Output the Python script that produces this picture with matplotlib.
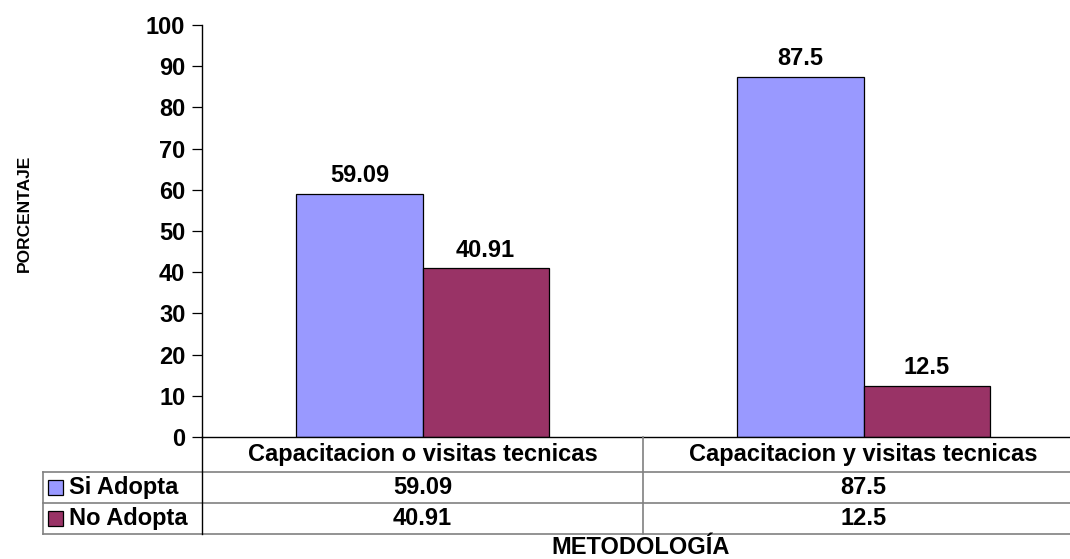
import matplotlib.pyplot as plt
import matplotlib.lines as mlines
import matplotlib.patches as mpatches
import numpy as np

categories = ["Capacitacion o visitas tecnicas", "Capacitacion y visitas tecnicas"]
series = ["Si Adopta", "No Adopta"]
si_adopta = [59.09, 87.5]
no_adopta = [40.91, 12.5]
value_labels = [["59.09", "87.5"], ["40.91", "12.5"]]
colors = ["#9999FF", "#993366"]

plt.rcParams['font.family'] = ['Liberation Sans', 'DejaVu Sans']
plt.rcParams['font.weight'] = 'bold'

W, H = 1070, 559
fig = plt.figure(figsize=(W / 100, H / 100), dpi=100)
fs = 17

# pixel geometry of plot area (right edge runs past the image, as in the source)
x0, x1 = 202, 1084
ytop, ybot = 25, 437
ax = fig.add_axes([x0 / W, 1 - ybot / H, (x1 - x0) / W, (ybot - ytop) / H])

n = len(categories)
bw = 0.286
xs = np.arange(n)
vals = [si_adopta, no_adopta]
for i, v in enumerate(vals):
    pos = xs + (i - 0.5) * bw
    bars = ax.bar(pos, v, bw, color=colors[i], edgecolor="black", linewidth=0.9, label=series[i])
    for b, lab in zip(bars, value_labels[i]):
        ax.annotate(lab, (b.get_x() + b.get_width() / 2, b.get_height()),
                    xytext=(0, 13), textcoords="offset points",
                    ha="center", va="center", fontsize=fs, fontweight="bold")

ax.set_xlim(-0.5, n - 0.5)
ax.set_ylim(0, 100)
ax.set_yticks(range(0, 101, 10))
ax.tick_params(axis="y", length=7, width=0.9, labelsize=fs, pad=5)
for t in ax.get_yticklabels():
    t.set_fontweight("bold")
ax.set_xticks([])
for s in ["top", "right", "bottom"]:
    ax.spines[s].set_visible(False)
ax.spines["left"].set_linewidth(1.0)

# data table drawn in figure pixel space
def px(x, y):
    return x / W, 1 - y / H

tl = "#808080"
xleft = 43
colx = [x0, 643, x1]
rows_y = [437, 472, 503, 534]

def line(xa, ya, xb, yb, c=tl, lw=1.2):
    a = px(xa, ya)
    b = px(xb, yb)
    fig.add_artist(mlines.Line2D([a[0], b[0]], [a[1], b[1]], color=c, lw=lw,
                                 transform=fig.transFigure))

line(x0, 437, x1, 437, c="black", lw=1.0)
for yy in rows_y[1:]:
    line(xleft, yy, x1, yy)
line(xleft, 472, xleft, 534)
line(x0, 437, x0, 534, c="black", lw=1.0)
line(colx[1], 437, colx[1], 534)

for j, cat in enumerate(categories):
    cx = (colx[j] + colx[j + 1]) / 2
    fig.text(*px(cx, 455), cat, ha="center", va="center", fontsize=fs, fontweight="bold")
    for i in range(len(series)):
        cy = (rows_y[i + 1] + rows_y[i + 2]) / 2
        fig.text(*px(cx, cy), value_labels[i][j], ha="center", va="center",
                 fontsize=fs, fontweight="bold")

for i, s in enumerate(series):
    cy = (rows_y[i + 1] + rows_y[i + 2]) / 2
    sx, sy = px(48, cy + 7)
    fig.add_artist(mpatches.Rectangle((sx, sy), 15 / W, 15 / H, facecolor=colors[i],
                                      edgecolor="black", lw=0.9, transform=fig.transFigure))
    fig.text(*px(69, cy), s, ha="left", va="center", fontsize=fs, fontweight="bold")

fig.text(*px(641, 548), "METODOLOGÍA", ha="center", va="center", fontsize=fs, fontweight="bold")
fig.text(*px(24, 213), "PORCENTAJE", ha="center", va="center", rotation=90,
         fontsize=12.5, fontweight="bold")

fig.savefig("out.png", dpi=100)
